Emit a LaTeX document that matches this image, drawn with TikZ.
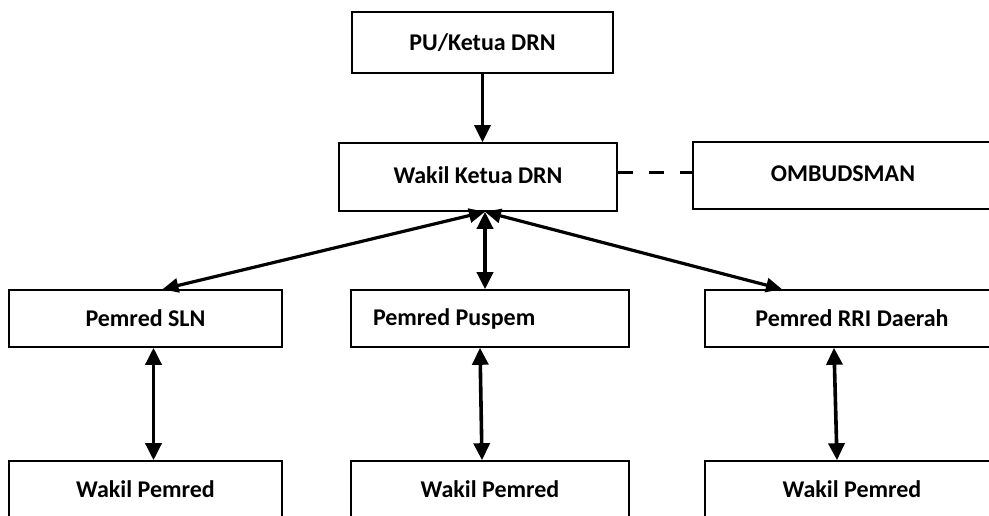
\documentclass[tikz,border=0pt]{standalone}
\usepackage{fontspec}
\setmainfont{Carlito}
\usetikzlibrary{calc}
\usetikzlibrary{arrows.meta}
\newcommand{\orgrowheight}{57}
\tikzstyle{orgbox}=[draw=black,line width=1.6pt,inner sep=0pt,font=\fontsize{24}{28}\selectfont\bfseries]
\tikzstyle{linkarrow}=[draw=black,line width=3.2pt,{Triangle[width=14pt,length=16pt]}-{Triangle[width=14pt,length=16pt]}]
\tikzstyle{rowarrow}=[draw=black,line width=3.6pt,{Triangle[width=16pt,length=17pt]}-{Triangle[width=16pt,length=17pt]}]

\begin{document}
\begin{tikzpicture}[x=1pt,y=-1pt]
  \useasboundingbox (0,0) rectangle (989,516);
  \clip (0,0) rectangle (989,516);
  % Top of the chart.
  \node[orgbox] (ketua) [minimum width=261pt,minimum height=61pt] at (482.5,42.5) {PU/Ketua DRN};
  \node[orgbox] (wakil) [minimum width=278pt,minimum height=68pt] at (478,177) {\raisebox{4pt}{Wakil Ketua DRN}};
  \node[orgbox] (ombudsman) [minimum width=300pt,minimum height=67pt] at (843,175.5) {\raisebox{3pt}{OMBUDSMAN}};
  % Pemred row.
  \node[orgbox] (sln) [minimum width=273pt,minimum height=\orgrowheight pt] at (145.5,318.5) {Pemred SLN};
  \node[orgbox] (puspem) [minimum width=278pt,minimum height=\orgrowheight pt] at (490,318.5) {\makebox[234pt][l]{Pemred Puspem}};
  \node[orgbox] (rri) [minimum width=294pt,minimum height=\orgrowheight pt] at (852,318.5) {Pemred RRI Daerah};
  % Wakil Pemred row.
  \node[orgbox] (sln_0) [minimum width=273pt,minimum height=\orgrowheight pt] at (145.5,489.5) {Wakil Pemred};
  \node[orgbox] (puspem_0) [minimum width=278pt,minimum height=\orgrowheight pt] at (490,489.5) {Wakil Pemred};
  \node[orgbox] (rri_0) [minimum width=294pt,minimum height=\orgrowheight pt] at (852,489.5) {Wakil Pemred};
  \coordinate (hub) at ($(wakil.south)+(7,0)$);
  % connectors
  \draw[line width=3.2pt,-{Triangle[width=16pt,length=17pt]}] (ketua.south) -- (ketua.south |- wakil.north);
  \draw[line width=3pt,dash pattern=on 15pt off 16pt] (wakil.east |- 0,173) -- (ombudsman.west |- 0,173);
  \path[linkarrow] (hub) -- ($(sln.north)+(17,0)$);
  \path[rowarrow] (hub) -- (hub |- puspem.north);
  \path[linkarrow] (hub) -- ($(rri.north)+(-70,0)$);
  \path[rowarrow] ($(sln.south)+(8,0)$) -- ($(sln_0.north)+(8,0)$);
  \path[rowarrow] ($(puspem.south)+(-10,0)$) -- ($(puspem_0.north)+(-8,0)$);
  \path[rowarrow] ($(rri.south)+(-18,0)$) -- ($(rri_0.north)+(-15,0)$);
\end{tikzpicture}
\end{document}
